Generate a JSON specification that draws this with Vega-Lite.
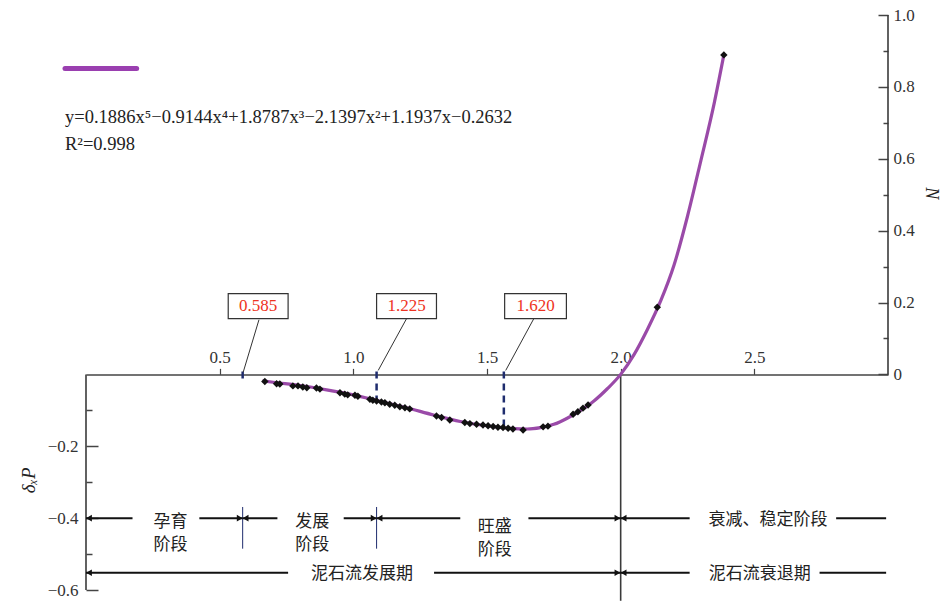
{
  "$schema": "https://vega.github.io/schema/vega-lite/v6.json",
  "width": 802,
  "height": 575,
  "autosize": {"type": "none"},
  "padding": {"left": 86, "top": 15, "right": 53, "bottom": 14},
  "background": "white",
  "config": {"view": {"stroke": null}, "axis": {"grid": false}},
  "resolve": {"axis": {"x": "independent", "y": "independent"}},
  "datasets": {
    "curve": [
      {"x": 0.66, "y": -0.018}, {"x": 0.70, "y": -0.022}, {"x": 0.80, "y": -0.031}, {"x": 0.90, "y": -0.043},
      {"x": 1.00, "y": -0.057}, {"x": 1.10, "y": -0.075}, {"x": 1.20, "y": -0.093}, {"x": 1.30, "y": -0.113},
      {"x": 1.40, "y": -0.131}, {"x": 1.50, "y": -0.143}, {"x": 1.60, "y": -0.151}, {"x": 1.65, "y": -0.152},
      {"x": 1.70, "y": -0.148}, {"x": 1.75, "y": -0.139}, {"x": 1.80, "y": -0.122}, {"x": 1.85, "y": -0.100},
      {"x": 1.90, "y": -0.074}, {"x": 1.95, "y": -0.040}, {"x": 2.00, "y": 0.0}, {"x": 2.05, "y": 0.055},
      {"x": 2.10, "y": 0.125}, {"x": 2.15, "y": 0.205}, {"x": 2.20, "y": 0.305}, {"x": 2.25, "y": 0.44},
      {"x": 2.30, "y": 0.595}, {"x": 2.35, "y": 0.755}, {"x": 2.386, "y": 0.889}
    ],
    "points": [
      {"x": 0.669, "y": -0.020}, {"x": 0.713, "y": -0.026}, {"x": 0.725, "y": -0.027}, {"x": 0.774, "y": -0.032},
      {"x": 0.793, "y": -0.032}, {"x": 0.811, "y": -0.035}, {"x": 0.826, "y": -0.037}, {"x": 0.862, "y": -0.038},
      {"x": 0.875, "y": -0.041}, {"x": 0.950, "y": -0.051}, {"x": 0.968, "y": -0.055}, {"x": 0.979, "y": -0.057},
      {"x": 1.006, "y": -0.058}, {"x": 1.017, "y": -0.061}, {"x": 1.062, "y": -0.069}, {"x": 1.073, "y": -0.072},
      {"x": 1.087, "y": -0.074}, {"x": 1.105, "y": -0.077}, {"x": 1.118, "y": -0.079}, {"x": 1.136, "y": -0.083},
      {"x": 1.155, "y": -0.086}, {"x": 1.174, "y": -0.090}, {"x": 1.193, "y": -0.093}, {"x": 1.211, "y": -0.096},
      {"x": 1.311, "y": -0.116}, {"x": 1.330, "y": -0.120}, {"x": 1.361, "y": -0.127}, {"x": 1.417, "y": -0.134},
      {"x": 1.436, "y": -0.137}, {"x": 1.461, "y": -0.139}, {"x": 1.485, "y": -0.141}, {"x": 1.504, "y": -0.143},
      {"x": 1.523, "y": -0.145}, {"x": 1.541, "y": -0.147}, {"x": 1.560, "y": -0.148}, {"x": 1.579, "y": -0.150},
      {"x": 1.597, "y": -0.152}, {"x": 1.635, "y": -0.155}, {"x": 1.710, "y": -0.146}, {"x": 1.728, "y": -0.144},
      {"x": 1.822, "y": -0.111}, {"x": 1.840, "y": -0.104}, {"x": 1.859, "y": -0.094}, {"x": 1.878, "y": -0.085},
      {"x": 2.137, "y": 0.187}, {"x": 2.386, "y": 0.889}
    ],
    "frame": [
      {"x": 3, "y": 0, "y2": 1},
      {"x": 0, "y": 0, "y2": -0.6},
      {"x": 2, "y": 0, "y2": -0.63}
    ],
    "dashes": [
      {"x": 0.586, "y": 0.008, "y2": -0.022},
      {"x": 1.087, "y": 0.008, "y2": -0.08},
      {"x": 1.563, "y": 0.008, "y2": -0.155}
    ],
    "seps": [
      {"x": 0.586, "y": -0.369, "y2": -0.485},
      {"x": 1.087, "y": -0.369, "y2": -0.485}
    ],
    "segs": [
      {"x": 0, "x2": 0.174, "y": -0.4}, {"x": 0.424, "x2": 0.586, "y": -0.4},
      {"x": 0.586, "x2": 0.716, "y": -0.4}, {"x": 0.964, "x2": 1.087, "y": -0.4},
      {"x": 1.087, "x2": 1.400, "y": -0.4}, {"x": 1.655, "x2": 2.0, "y": -0.4},
      {"x": 2.0, "x2": 2.258, "y": -0.4}, {"x": 2.806, "x2": 2.993, "y": -0.4},
      {"x": 0, "x2": 0.756, "y": -0.552}, {"x": 1.302, "x2": 2.0, "y": -0.552},
      {"x": 2.0, "x2": 2.258, "y": -0.552}, {"x": 2.744, "x2": 2.993, "y": -0.552}
    ],
    "heads": [
      {"x": 0.011, "y": -0.4, "dir": "L"}, {"x": 0.575, "y": -0.4, "dir": "R"}, {"x": 0.597, "y": -0.4, "dir": "L"},
      {"x": 1.076, "y": -0.4, "dir": "R"}, {"x": 1.098, "y": -0.4, "dir": "L"}, {"x": 1.988, "y": -0.4, "dir": "R"},
      {"x": 2.011, "y": -0.4, "dir": "L"},
      {"x": 0.011, "y": -0.552, "dir": "L"}, {"x": 1.988, "y": -0.552, "dir": "R"}, {"x": 2.011, "y": -0.552, "dir": "L"}
    ],
    "notes": [
      {"x": 0.316, "y": -0.411, "text": "孕育\n阶段"},
      {"x": 0.846, "y": -0.411, "text": "发展\n阶段"},
      {"x": 1.529, "y": -0.425, "text": "旺盛\n阶段"},
      {"x": 2.551, "y": -0.405, "text": "衰减、稳定阶段"},
      {"x": 1.032, "y": -0.555, "text": "泥石流发展期"},
      {"x": 2.52, "y": -0.555, "text": "泥石流衰退期"}
    ],
    "boxes": [
      {"x": 0.532, "x2": 0.756, "y": 0.2245, "y2": 0.155, "cx": 0.644, "cy": 0.19, "label": "0.585"},
      {"x": 1.087, "x2": 1.311, "y": 0.2245, "y2": 0.155, "cx": 1.199, "cy": 0.19, "label": "1.225"},
      {"x": 1.566, "x2": 1.797, "y": 0.2245, "y2": 0.155, "cx": 1.6815, "cy": 0.19, "label": "1.620"}
    ],
    "leaders": [
      {"x": 0.647, "y": 0.152, "x2": 0.588, "y2": 0.006},
      {"x": 1.199, "y": 0.155, "x2": 1.093, "y2": 0.011},
      {"x": 1.675, "y": 0.155, "x2": 1.570, "y2": 0.011}
    ],
    "legend": [
      {"x": -0.0785, "x2": 0.1895, "y": 0.851}
    ],
    "equation": [
      {"x": -0.0785, "y": 0.716, "text": "y=0.1886x⁵−0.9144x⁴+1.8787x³−2.1397x²+1.1937x−0.2632"},
      {"x": -0.0785, "y": 0.642, "text": "R²=0.998"}
    ],
    "ytitle": [{"x": -0.215, "y": -0.295, "text": "δₓP"}],
    "ntitle": [{"x": 3.16, "y": 0.504, "text": "N"}]
  },
  "layer": [
    {
      "data": {"name": "frame"},
      "mark": {"type": "rule", "color": "#3a3a3a", "strokeWidth": 1.6},
      "encoding": {
        "x": {"field": "x", "type": "quantitative", "scale": {"domain": [0, 3], "nice": false, "zero": false},
              "axis": {"orient": "bottom", "offset": -215.625, "values": [0.5, 1, 1.5, 2, 2.5], "format": ".1f", "domain": true, "domainColor": "#444", "domainWidth": 1.5, "ticks": true, "tickSize": -6, "tickColor": "#444", "tickWidth": 1.2, "labelFont": "Liberation Serif", "labelFontSize": 17, "labelColor": "#333", "labelPadding": -2, "labelBaseline": "bottom", "labelFlush": false, "labelOverlap": false, "title": null, "grid": false}},
        "y": {"field": "y", "type": "quantitative", "scale": {"domain": [-0.6, 1], "nice": false, "zero": false},
              "axis": {"orient": "right", "values": [0.1, 0.3, 0.5, 0.7, 0.9], "labels": false, "domain": false, "ticks": true, "tickSize": -5, "tickColor": "#444", "tickWidth": 1.5, "title": null, "grid": false}},
        "y2": {"field": "y2"}
      }
    },
    {
      "data": {"name": "dashes"},
      "mark": {"type": "rule", "color": "#1f2d6e", "strokeWidth": 2.5, "strokeDash": [7, 5]},
      "encoding": {
        "x": {"field": "x", "type": "quantitative", "scale": {"domain": [0, 3], "nice": false, "zero": false}, "axis": null},
        "y": {"field": "y", "type": "quantitative", "scale": {"domain": [-0.6, 1], "nice": false, "zero": false},
              "axis": {"orient": "left", "values": [-0.1, -0.3, -0.5], "labels": false, "domain": false, "ticks": true, "tickSize": -6, "tickColor": "#444", "tickWidth": 1.5, "title": null, "grid": false}},
        "y2": {"field": "y2"}
      }
    },
    {
      "data": {"name": "seps"},
      "mark": {"type": "rule", "color": "#1f2d6e", "strokeWidth": 1},
      "encoding": {
        "x": {"field": "x", "type": "quantitative", "scale": {"domain": [0, 3], "nice": false, "zero": false}, "axis": null},
        "y": {"field": "y", "type": "quantitative", "scale": {"domain": [-0.6, 1], "nice": false, "zero": false}, "axis": null},
        "y2": {"field": "y2"}
      }
    },
    {
      "data": {"name": "segs"},
      "mark": {"type": "rule", "color": "#111", "strokeWidth": 2},
      "encoding": {
        "x": {"field": "x", "type": "quantitative", "scale": {"domain": [0, 3], "nice": false, "zero": false}, "axis": null},
        "x2": {"field": "x2"},
        "y": {"field": "y", "type": "quantitative", "scale": {"domain": [-0.6, 1], "nice": false, "zero": false}, "axis": null}
      }
    },
    {
      "data": {"name": "heads"},
      "mark": {"type": "point", "filled": true, "color": "#111", "size": 45, "opacity": 1},
      "encoding": {
        "x": {"field": "x", "type": "quantitative", "scale": {"domain": [0, 3], "nice": false, "zero": false}, "axis": null},
        "y": {"field": "y", "type": "quantitative", "scale": {"domain": [-0.6, 1], "nice": false, "zero": false}, "axis": null},
        "shape": {"field": "dir", "type": "nominal", "scale": {"domain": ["L", "R"], "range": ["triangle-left", "triangle-right"]}, "legend": null}
      }
    },
    {
      "data": {"name": "notes"},
      "mark": {"type": "text", "font": "Noto Sans CJK SC", "fontSize": 17, "color": "#222", "align": "center", "baseline": "middle", "lineBreak": "\n", "lineHeight": 23},
      "encoding": {
        "x": {"field": "x", "type": "quantitative", "scale": {"domain": [0, 3], "nice": false, "zero": false}, "axis": null},
        "y": {"field": "y", "type": "quantitative", "scale": {"domain": [-0.6, 1], "nice": false, "zero": false}, "axis": null},
        "text": {"field": "text"}
      }
    },
    {
      "data": {"name": "leaders"},
      "mark": {"type": "rule", "color": "#333", "strokeWidth": 1},
      "encoding": {
        "x": {"field": "x", "type": "quantitative", "scale": {"domain": [0, 3], "nice": false, "zero": false}, "axis": null},
        "x2": {"field": "x2"},
        "y": {"field": "y", "type": "quantitative", "scale": {"domain": [-0.6, 1], "nice": false, "zero": false}, "axis": null},
        "y2": {"field": "y2"}
      }
    },
    {
      "data": {"name": "boxes"},
      "mark": {"type": "rect", "fill": "white", "stroke": "#333", "strokeWidth": 1.2},
      "encoding": {
        "x": {"field": "x", "type": "quantitative", "scale": {"domain": [0, 3], "nice": false, "zero": false}, "axis": null},
        "x2": {"field": "x2"},
        "y": {"field": "y", "type": "quantitative", "scale": {"domain": [-0.6, 1], "nice": false, "zero": false}, "axis": null},
        "y2": {"field": "y2"}
      }
    },
    {
      "data": {"name": "boxes"},
      "mark": {"type": "text", "font": "Liberation Serif", "fontSize": 17, "color": "#ee3322", "align": "center", "baseline": "middle"},
      "encoding": {
        "x": {"field": "cx", "type": "quantitative", "scale": {"domain": [0, 3], "nice": false, "zero": false}, "axis": null},
        "y": {"field": "cy", "type": "quantitative", "scale": {"domain": [-0.6, 1], "nice": false, "zero": false}, "axis": null},
        "text": {"field": "label"}
      }
    },
    {
      "data": {"name": "curve"},
      "mark": {"type": "line", "color": "#9a4aa8", "strokeWidth": 3.2, "interpolate": "monotone"},
      "encoding": {
        "x": {"field": "x", "type": "quantitative", "scale": {"domain": [0, 3], "nice": false, "zero": false}, "axis": null},
        "y": {"field": "y", "type": "quantitative", "scale": {"domain": [-0.6, 1], "nice": false, "zero": false},
              "axis": {"orient": "right", "values": [0, 0.2, 0.4, 0.6, 0.8, 1], "labelExpr": "datum.value === 0 ? '0' : format(datum.value, '.1f')", "domain": false, "ticks": true, "tickSize": -10, "tickColor": "#444", "tickWidth": 1.5, "labelPadding": 15, "labelFont": "Liberation Serif", "labelFontSize": 17, "labelColor": "#333", "labelFlush": false, "labelOverlap": false, "title": null, "grid": false}}
      }
    },
    {
      "data": {"name": "points"},
      "mark": {"type": "point", "shape": "diamond", "filled": true, "color": "#111", "size": 55, "opacity": 1},
      "encoding": {
        "x": {"field": "x", "type": "quantitative", "scale": {"domain": [0, 3], "nice": false, "zero": false}, "axis": null},
        "y": {"field": "y", "type": "quantitative", "scale": {"domain": [-0.6, 1], "nice": false, "zero": false},
              "axis": {"orient": "left", "values": [-0.2, -0.4, -0.6], "format": ".1f", "domain": false, "ticks": true, "tickSize": -12, "tickColor": "#444", "tickWidth": 1.5, "labelPadding": 20, "labelFont": "Liberation Serif", "labelFontSize": 17, "labelColor": "#333", "labelFlush": false, "labelOverlap": false, "title": null, "grid": false}}
      }
    },
    {
      "data": {"name": "legend"},
      "mark": {"type": "rule", "color": "#9a3fb0", "strokeWidth": 5, "strokeCap": "round"},
      "encoding": {
        "x": {"field": "x", "type": "quantitative", "scale": {"domain": [0, 3], "nice": false, "zero": false}, "axis": null},
        "x2": {"field": "x2"},
        "y": {"field": "y", "type": "quantitative", "scale": {"domain": [-0.6, 1], "nice": false, "zero": false}, "axis": null}
      }
    },
    {
      "data": {"name": "equation"},
      "mark": {"type": "text", "font": "Liberation Serif", "fontSize": 18.5, "color": "#222", "align": "left", "baseline": "middle"},
      "encoding": {
        "x": {"field": "x", "type": "quantitative", "scale": {"domain": [0, 3], "nice": false, "zero": false}, "axis": null},
        "y": {"field": "y", "type": "quantitative", "scale": {"domain": [-0.6, 1], "nice": false, "zero": false}, "axis": null},
        "text": {"field": "text"}
      }
    },
    {
      "data": {"name": "ytitle"},
      "mark": {"type": "text", "font": "Liberation Serif", "fontStyle": "italic", "fontSize": 19, "color": "#222", "align": "center", "baseline": "middle", "angle": 270},
      "encoding": {
        "x": {"field": "x", "type": "quantitative", "scale": {"domain": [0, 3], "nice": false, "zero": false}, "axis": null},
        "y": {"field": "y", "type": "quantitative", "scale": {"domain": [-0.6, 1], "nice": false, "zero": false}, "axis": null},
        "text": {"field": "text"}
      }
    },
    {
      "data": {"name": "ntitle"},
      "mark": {"type": "text", "font": "Liberation Serif", "fontStyle": "italic", "fontSize": 18, "color": "#222", "align": "center", "baseline": "middle", "angle": 90},
      "encoding": {
        "x": {"field": "x", "type": "quantitative", "scale": {"domain": [0, 3], "nice": false, "zero": false}, "axis": null},
        "y": {"field": "y", "type": "quantitative", "scale": {"domain": [-0.6, 1], "nice": false, "zero": false}, "axis": null},
        "text": {"field": "text"}
      }
    }
  ]
}
